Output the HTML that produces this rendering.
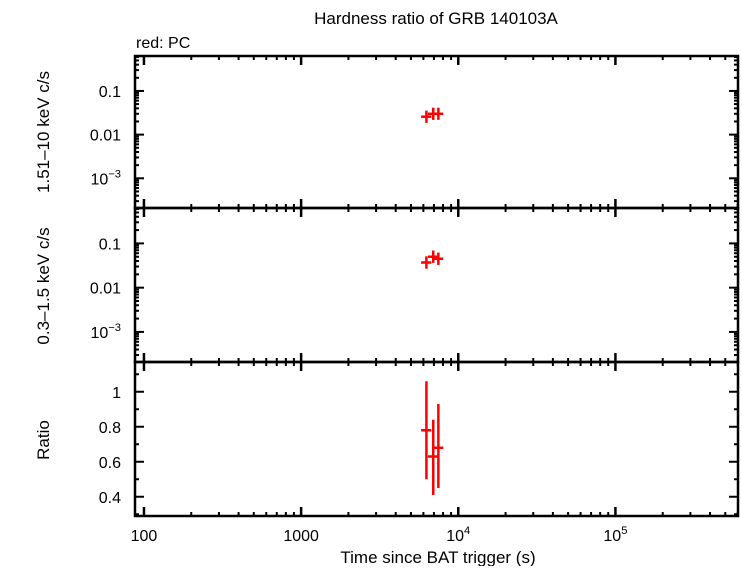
<!DOCTYPE html>
<html><head><meta charset="utf-8"><style>
body{margin:0;background:#fff}
svg text{font-family:"Liberation Sans",sans-serif;fill:#000}
</style></head><body>
<svg width="742" height="566" xmlns="http://www.w3.org/2000/svg">
<g id="root"></g>
</svg>
<script>
const times=[6270,6930,7470];
const timeErr=[470,520,560];
const hardRate=[0.0257,0.030,0.030];
const softRate=[0.037,0.050,0.045];
const ratio=[0.78,0.63,0.68];
const ratioLo=[0.50,0.41,0.45];
const ratioHi=[1.06,0.84,0.93];
const xMajor=[100,1000,10000,100000];
const xMajorLabels=["100","1000","10^4","10^5"];
const yLogTicks=[0.1,0.01,0.001];
const yLogLabels=["0.1","0.01","10^-3"];
const ratioTicks=[0.4,0.6,0.8,1.0];
const ratioLabels=["0.4","0.6","0.8","1"];

const NS="http://www.w3.org/2000/svg";
const root=document.getElementById('root');
const L=135,R=738;
const xmin=1.943,xmax=5.78;
const X=v=>L+(Math.log10(v)-xmin)/(xmax-xmin)*(R-L);
const panels=[{t:56,b:208,lo:-3.68,hi:-0.2,log:true},{t:208,b:362,lo:-3.68,hi:-0.2,log:true},{t:362,b:516,lo:0.29,hi:1.17,log:false}];
function Y(p,v){const u=p.log?Math.log10(v):v;return p.b-(u-p.lo)/(p.hi-p.lo)*(p.b-p.t);}
function el(tag,attrs,parent){const e=document.createElementNS(NS,tag);for(const k in attrs)e.setAttribute(k,attrs[k]);(parent||root).appendChild(e);return e;}
function line(x1,y1,x2,y2,c,w,name){const e=el('line',{x1,y1,x2,y2,stroke:c,'stroke-width':w});

return e;}
function txt(x,y,s,anchor,size,name,parent){const e=el('text',{x,y,'text-anchor':anchor,'font-size':size},parent);


const m=s.match(/^(.*)\^(.*)$/);
if(m){e.appendChild(document.createTextNode(m[1]));const t=el('tspan',{dy:-7,'font-size':size*0.7},e);t.textContent=m[2].replace('-','−');}
else e.textContent=s;return e;}

panels.forEach((p,pi)=>{
 for(let d=2;d<=5;d++)for(let k=1;k<10;k++){const v=k*Math.pow(10,d);const lv=Math.log10(v);if(lv<xmin||lv>xmax)continue;const x=X(v);const len=k==1?9:4;
  line(x,p.t,x,p.t+len,'#000',k==1?2.5:2,'x-tick');line(x,p.b,x,p.b-len,'#000',k==1?2.5:2,'x-tick');}
 if(p.log){
  for(let d=-4;d<=0;d++)for(let k=1;k<10;k++){const v=k*Math.pow(10,d);const lv=Math.log10(v);if(lv<p.lo||lv>p.hi)continue;const y=Y(p,v);const len=k==1?9:4;
   line(L,y,L+len,y,'#000',2,'y-tick');line(R,y,R-len,y,'#000',2,'y-tick');}
  yLogTicks.forEach((v,i)=>txt(L-14,Y(p,v)+6,yLogLabels[i],'end',16,'y-tick-label'));
 }else{
  for(let v=0.3;v<=1.15;v+=0.1){const y=Y(p,v);const maj=Math.abs((v*10)%2)<0.01||Math.abs((v*10)%2-2)<0.01;const len=maj?9:4;
   line(L,y,L+len,y,'#000',2,'y-tick');line(R,y,R-len,y,'#000',2,'y-tick');}
  ratioTicks.forEach((v,i)=>txt(L-14,Y(p,v)+6,ratioLabels[i],'end',16,'y-tick-label'));
 }
 const r=el('rect',{x:L,y:p.t,width:R-L,height:p.b-p.t,fill:'none',stroke:'#000','stroke-width':2.5});
 
 
});
function cross(p,t,te,v,lo,hi){const x=X(t),y=Y(p,v);
 line(X(t-te),y,X(t+te),y,'#f00',2.5,'data-point-xerr');
 line(x,Y(p,hi),x,Y(p,lo),'#f00',2.5,'data-point-yerr');}
times.forEach((t,i)=>{
 cross(panels[0],t,timeErr[i],hardRate[i],hardRate[i]/1.38,hardRate[i]*1.38);
 cross(panels[1],t,timeErr[i],softRate[i],softRate[i]/1.38,softRate[i]*1.38);
 cross(panels[2],t,timeErr[i],ratio[i],ratioLo[i],ratioHi[i]);
});
xMajor.forEach((v,i)=>txt(X(v),541,xMajorLabels[i],'middle',16,'x-tick-label'));
txt(438,563,'Time since BAT trigger (s)','middle',17,'x-axis-title');
txt(436,24,'Hardness ratio of GRB 140103A','middle',17,'chart-title');
txt(136,48,'red: PC','start',16,'legend-label');
[['1.51–10 keV c/s',132,'y-axis-title-hard'],['0.3–1.5 keV c/s',286,'y-axis-title-soft'],['Ratio',440,'y-axis-title-ratio']].forEach(a=>{
 const e=txt(0,0,a[0],'middle',17,a[2]);e.setAttribute('transform','translate(49,'+a[1]+') rotate(-90)');});
</script>
</body></html>
